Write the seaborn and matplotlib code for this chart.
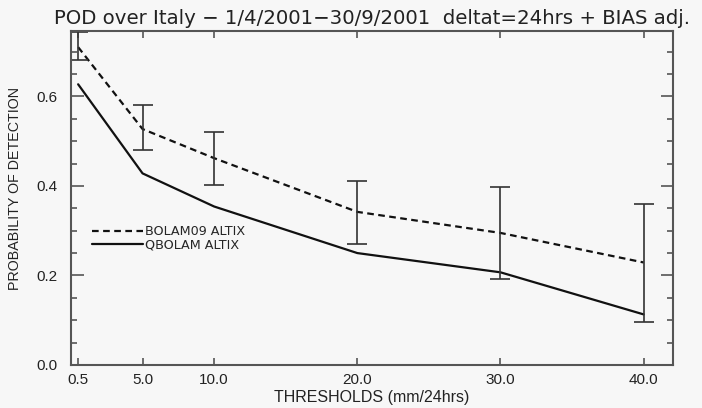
import matplotlib
matplotlib.use("Agg")
import matplotlib.pyplot as plt
import seaborn as sns
import pandas as pd
import numpy as np
from matplotlib.ticker import MultipleLocator, FixedLocator
from matplotlib.lines import Line2D

# ---- data ----
thresholds = [0.5, 5.0, 10.0, 20.0, 30.0, 40.0]
tick_labels = ["0.5", "5.0", "10.0", "20.0", "30.0", "40.0"]
bolam09 = [0.710, 0.527, 0.462, 0.342, 0.295, 0.229]
qbolam = [0.627, 0.428, 0.354, 0.250, 0.207, 0.113]
err_low = [0.681, 0.480, 0.402, 0.270, 0.193, 0.097]
err_high = [0.743, 0.581, 0.521, 0.411, 0.397, 0.359]
series_names = ["BOLAM09 ALTIX", "QBOLAM ALTIX"]

df = pd.DataFrame({
    "threshold": thresholds * 2,
    "pod": bolam09 + qbolam,
    "model": [series_names[0]] * len(thresholds) + [series_names[1]] * len(thresholds),
})

sns.set_style("ticks")
plt.rcParams["font.family"] = ["Liberation Sans", "DejaVu Sans"]

bg = "#f7f7f7"
axc = "#555555"
fig = plt.figure(figsize=(7.02, 4.08), dpi=100, facecolor=bg)
ax = fig.add_axes([0.1011, 0.1054, 0.8576, 0.8186])
ax.set_facecolor(bg)

dash = (3.0, 2.0)
sns.lineplot(data=df, x="threshold", y="pod", hue="model", style="model",
             palette=["#111111", "#111111"],
             dashes={series_names[0]: dash, series_names[1]: ""},
             linewidth=1.6, ax=ax, legend=False, sort=False)

yerr = [np.array(bolam09) - np.array(err_low), np.array(err_high) - np.array(bolam09)]
ax.errorbar(thresholds, bolam09, yerr=yerr, fmt="none", ecolor="#333333",
            elinewidth=1.2, capsize=7, capthick=1.2)

ax.set_xlim(0, 42.05)
ax.set_ylim(0, 0.746)
ax.xaxis.set_major_locator(FixedLocator(thresholds))
ax.set_xticklabels(tick_labels)
ax.yaxis.set_major_locator(MultipleLocator(0.2))
ax.yaxis.set_minor_locator(MultipleLocator(0.05))
ax.set_yticklabels(["%.1f" % v for v in ax.get_yticks()])

ax.tick_params(axis="x", which="major", direction="in", length=5, width=1.2,
               color=axc, top=True, bottom=True, labelsize=11, labelcolor="#222222", pad=6)
ax.tick_params(axis="y", which="major", direction="in", length=9, width=1.2,
               color=axc, left=True, right=True, labelsize=11, labelcolor="#222222", pad=10)
ax.tick_params(axis="y", which="minor", direction="in", length=4.5, width=1.2,
               color=axc, left=True, right=True)
for s in ax.spines.values():
    s.set_color(axc)
    s.set_linewidth(1.5)
    s.set_visible(True)

ax.set_xlabel("THRESHOLDS (mm/24hrs)", fontsize=11.5, color="#222222", labelpad=2)
ax.set_ylabel("PROBABILITY OF DETECTION", fontsize=10.3, color="#222222")
ax.yaxis.set_label_coords(-0.081, 0.527)
ax.set_title("POD over Italy \u2212 1/4/2001\u221230/9/2001  deltat=24hrs + BIAS adj.",
             fontsize=14.2, color="#222222", family="DejaVu Sans", pad=5)

handles = [Line2D([], [], color="#111111", lw=1.6, dashes=dash),
           Line2D([], [], color="#111111", lw=1.6)]
ax.legend(handles, series_names, loc="upper left", bbox_to_anchor=(0.035, 0.418),
          frameon=False, prop={"family": "DejaVu Sans", "size": 9.2},
          handlelength=3.95, handletextpad=0.18,
          labelspacing=0.0, borderaxespad=0, borderpad=0)

fig.savefig("out.png", dpi=100, facecolor=bg)
